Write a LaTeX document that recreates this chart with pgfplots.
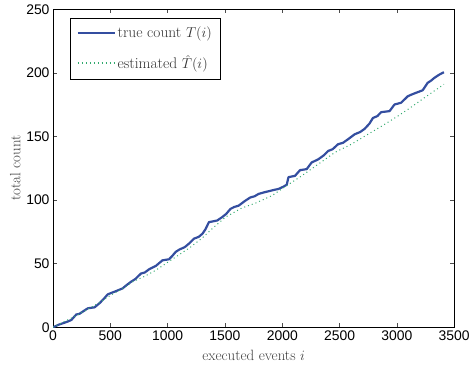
\documentclass[border=0pt]{standalone}
\usepackage{pgfplots}
\pgfplotsset{compat=1.18}
\usepackage{fontspec}
\newfontfamily\tickfont{Liberation Sans}
\definecolor{trueblue}{RGB}{52,78,160}
\definecolor{estgreen}{RGB}{50,170,110}
\begin{document}
\begin{tikzpicture}
\begin{axis}[
  scale only axis,
  width=403.4pt, height=319.7pt,
  xmin=0, xmax=3500, ymin=0, ymax=250,
  xtick={0,500,...,3500}, ytick={0,50,...,250},
  tick align=inside,
  major tick length=4pt,
  tick style={black!70, line width=0.6pt},
  axis line style={black, line width=0.8pt},
  /pgf/number format/assume math mode=true,
  /pgf/number format/1000 sep={},
  tick label style={font=\fontsize{14}{16}\selectfont\tickfont},
  label style={font=\fontsize{15}{17}\selectfont, text=black!75},
  xlabel={executed events $i$},
  ylabel={total count},
  xlabel style={at={(axis description cs:0.5,-0.1048)}, anchor=base},
  ylabel style={at={(axis description cs:-0.0942,0.5)}, anchor=center},
  legend style={at={(0.0414,0.9728)}, anchor=north west, draw=black, line width=0.8pt,
    font=\fontsize{15.5}{17}\selectfont, text=black!80, inner xsep=7pt, inner ysep=7pt, row sep=12pt},
  legend cell align=left,
  legend image code/.code={\draw[#1, line width=1.8pt] (0cm,0cm) -- (1.3cm,0cm);},
]
\addplot[trueblue, line width=2.2pt, line join=round] coordinates {
(0,0) (15,0.5) (50,2) (87,3.1) (130,4.5) (160,5.7) (203,10) (230,10.5)
(260,12.3) (304,14.9) (362,15.6) (405,18.8) (440,22) (477,25.8) (510,27)
(550,28.4) (607,30.5) (640,33) (680,35.7) (720,38) (767,42.2) (800,43)
(839,45.6) (897,48.2) (955,52.6) (1012,53.4) (1040,56) (1070,59.2) (1101,61)
(1150,63) (1186,65.7) (1229,69.6) (1270,71) (1304,73.5) (1330,77) (1360,82.6)
(1432,83.9) (1475,86.5) (1510,89) (1548,93) (1580,94.5) (1620,95.6) (1678,99.5)
(1721,102) (1760,103) (1793,104.8) (1840,106) (1880,106.9) (1930,108) (1967,108.7)
(2010,110.5) (2039,112) (2054,118) (2111,119) (2155,123.5) (2213,124.3) (2256,129.5)
(2314,132) (2360,135) (2401,138.6) (2440,140) (2487,143.9) (2530,145) (2574,147.8)
(2632,151.7) (2680,153.5) (2719,156) (2760,160) (2791,164.5) (2830,166) (2863,169.1)
(2936,169.9) (2979,175.1) (3037,176.5) (3095,181.6) (3130,183) (3167,184.3) (3225,186.3)
(3268,192.1) (3300,194) (3326,196) (3370,198.6) (3410,200.5)
};
\addlegendentry{true count $T(i)$}
\addplot[estgreen, line width=1pt, dash pattern=on 1pt off 3pt] coordinates {
(0,0) (200,9) (400,19) (500,25) (600,30) (700,36) (800,40) (900,45) (1000,51)
(1100,57) (1200,63) (1300,70) (1388,77.4) (1504,86.5) (1649,93.8) (1765,97.5)
(1909,103.4) (2039,111.3) (2169,119) (2314,128.2) (2459,137.4) (2603,143.9)
(2748,151.7) (2893,159.5) (3008,166) (3095,171.2) (3240,180.4) (3410,191)
};
\addlegendentry{estimated $\hat{T}(i)$}
\end{axis}
\path (current axis.south west) ++(-53.3pt,-39pt);
\path (current axis.south west) ++(419.7pt,329pt);
\end{tikzpicture}
\end{document}
